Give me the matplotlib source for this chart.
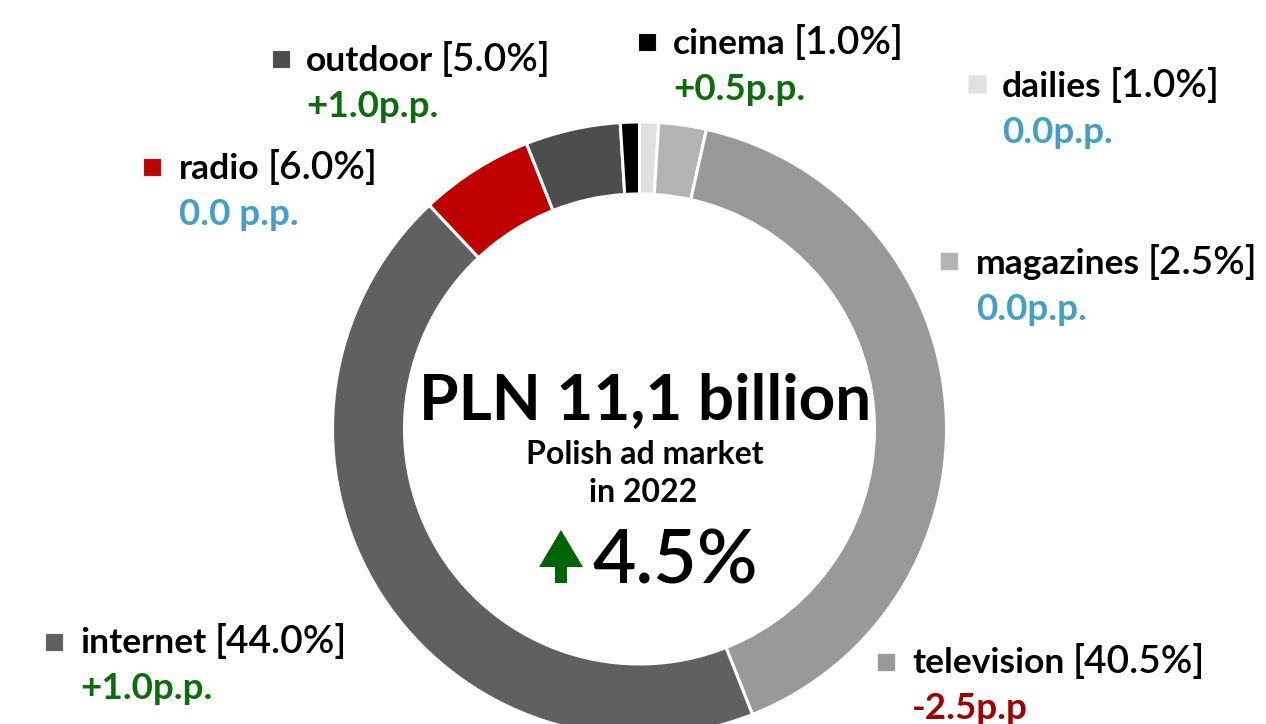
import matplotlib
matplotlib.use("Agg")
import matplotlib.pyplot as plt
from matplotlib.patches import FancyArrow

plt.rcParams['font.family'] = ['Lato', 'DejaVu Sans']

# data, clockwise from 12 o'clock
media = ['dailies', 'magazines', 'television', 'internet', 'radio', 'outdoor', 'cinema']
share = [1.0, 2.5, 40.5, 44.0, 6.0, 5.0, 1.0]
change = ['0.0p.p.', '0.0p.p.', '-2.5p.p', '+1.0p.p.', '0.0 p.p.', '+1.0p.p.', '+0.5p.p.']
colors = ['#e0e0e0', '#b3b3b3', '#999999', '#606060', '#c00000', '#4d4d4d', '#000000']

# label anchors in pixels (square centre, text x, first baseline)
label_pos = {
    'dailies':    (976.5, 84, 1002, 97),
    'magazines':  (949, 261, 976, 274),
    'television': (885.5, 662, 912, 673),
    'internet':   (54, 642, 80, 653),
    'radio':      (152, 166.5, 179, 179),
    'outdoor':    (280.5, 58.5, 306, 71),
    'cinema':     (646.5, 42, 673, 54),
}

def change_color(s):
    if s.startswith('+'):
        return '#0b6e0b'
    if s.startswith('-'):
        return '#a50000'
    return '#42a0c8'

W, H = 1266, 724
fig = plt.figure(figsize=(W / 100, H / 100), dpi=100)
ax = fig.add_axes([0, 0, 1, 1])

ax.pie(share, colors=colors, startangle=-90, counterclock=True,
       center=(639.5, 429), radius=307,
       wedgeprops=dict(width=72, edgecolor='white', linewidth=2.2))
ax.set_xlim(0, W)
ax.set_ylim(H, 0)
ax.set_aspect('equal')
ax.axis('off')

fs = 25.5
names = []
for i, m in enumerate(media):
    sx, sy, tx, ty = label_pos[m]
    ax.scatter([sx], [sy], marker='s', s=165, color=colors[i],
               edgecolors='#eeeeee', linewidths=0.8, zorder=3)
    t = ax.text(tx, ty, m, fontsize=fs, fontweight='bold', va='baseline', ha='left')
    names.append((t, i))
    ax.text(tx, ty + 46, change[i], fontsize=fs + 1, fontweight='bold',
            color=change_color(change[i]), va='baseline', ha='left')

fig.canvas.draw()
for t, i in names:
    bb = t.get_window_extent()
    sx, sy, tx, ty = label_pos[media[i]]
    ax.text(bb.x1 + 8, ty, '[%.1f%%]' % share[i], fontsize=fs + 2.5,
            fontweight='semibold', va='baseline', ha='left')

# centre
ax.text(645, 420, 'PLN 11,1 billion', fontsize=46, fontweight='bold',
        ha='center', va='baseline')
ax.text(645, 464, 'Polish ad market', fontsize=23, fontweight='bold',
        ha='center', va='baseline')
ax.text(643, 502, 'in 2022', fontsize=23, fontweight='bold',
        ha='center', va='baseline')
ax.text(592, 583, '4.5%', fontsize=54, fontweight='semibold', ha='left', va='baseline')
ax.add_patch(FancyArrow(561, 583, 0, -53, width=12, head_width=44,
                        head_length=37, length_includes_head=True,
                        color='#006400', lw=0))

fig.savefig('out.png', dpi=100)
